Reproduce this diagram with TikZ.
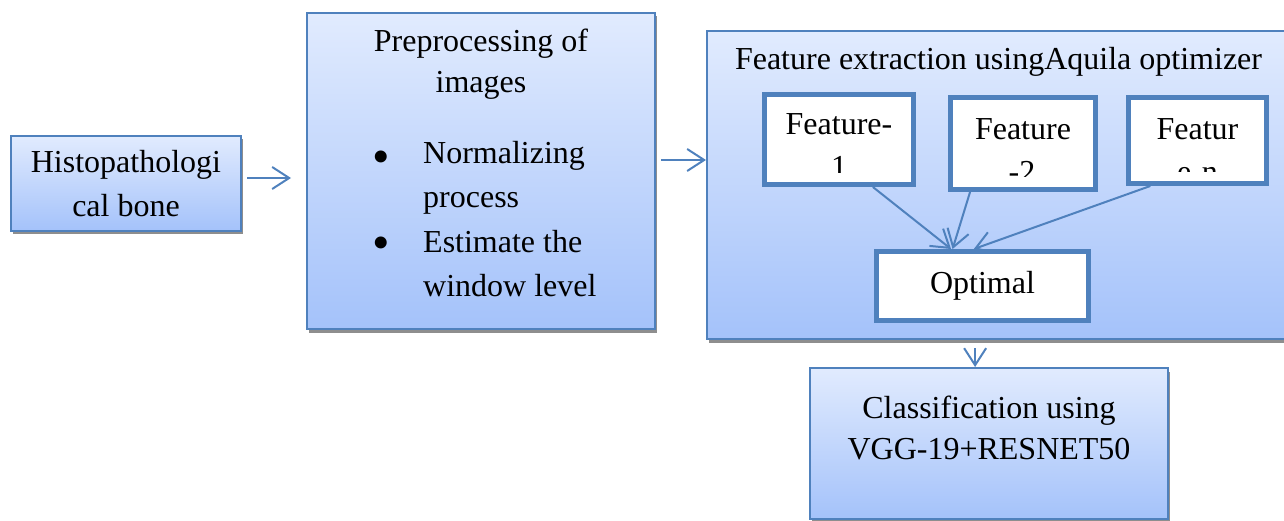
\documentclass[tikz,border=0pt]{standalone}
\usepackage{fontspec}
\setmainfont{Liberation Serif}
\usetikzlibrary{arrows.meta,calc,shadows}
\definecolor{bordblue}{HTML}{4F81BD}
\definecolor{topblue}{HTML}{E1EBFE}
\definecolor{botblue}{HTML}{A4C2FA}
\definecolor{shadgray}{HTML}{8E8E8E}
\begin{document}
\begin{tikzpicture}[x=1pt,y=-1pt,
  bluebox/.style={draw=bordblue, line width=2pt, top color=topblue, bottom color=botblue,
    inner sep=0pt, drop shadow={shadow xshift=1.5pt, shadow yshift=-3.5pt, fill=shadgray, opacity=1}},
  whitebox/.style={draw=bordblue, line width=5pt, fill=white, inner sep=0pt},
  txt/.style={anchor=base, inner sep=0pt, font=\fontsize{32}{43}\selectfont},
  bullettxt/.style={anchor=base, inner sep=0pt, font=\fontsize{50}{50}\selectfont},
  arr/.style={draw=bordblue, line width=2pt, -{Straight Barb[length=17pt,width=22pt,line width=2pt]}}
]
\useasboundingbox (0,0) rectangle (1284,521);

% Input box
\node[bluebox, minimum width=230pt, minimum height=95pt] (histo) at (126,183.5) {};
\node[txt] (histo1) at (126,173) {Histopathologi};
\node[txt] (histo2) at (126,217) {cal bone};

% Preprocessing box
\node[bluebox, minimum width=348pt, minimum height=316pt] (prep) at (481,171) {};
\node[txt] (prep1) at (481,52) {Preprocessing of};
\node[txt] (prep2) at (481,93) {images};
\node[bullettxt] (bul1) at (381.5,174) {\textbullet};
\node[bullettxt] (bul2) at (381.5,260) {\textbullet};
\node[txt, anchor=base west] (pl1) at (423,164) {Normalizing};
\node[txt, anchor=base west] (pl2) at (423,208) {process};
\node[txt, anchor=base west] (pl3) at (423,252) {Estimate the};
\node[txt, anchor=base west] (pl4) at (423,296) {window level};

% Feature extraction box
\node[bluebox, minimum width=583pt, minimum height=308pt] (feat) at (998.5,185) {};
\node[txt] (feattitle) at (998.5,70) {Feature extraction usingAquila optimizer};

\node[whitebox, minimum width=149pt, minimum height=90pt] (f1) at (839,139.5) {};
\node[txt] (f1a) at (839,135) {Feature-};
\begin{scope}
  \clip (765,100) rectangle (912,173);
  \node[txt] (f1b) at (839,178) {1};
\end{scope}

\node[whitebox, minimum width=145pt, minimum height=92pt] (f2) at (1023,143.5) {};
\node[txt] (f2a) at (1023,140) {Feature};
\begin{scope}
  \clip (952,100) rectangle (1093,177);
  \node[txt] (f2b) at (1022,183) {-2};
\end{scope}

\node[whitebox, minimum width=138pt, minimum height=86pt] (fn) at (1197.5,140.5) {};
\node[txt] (fna) at (1197.5,140) {Featur};
\begin{scope}
  \clip (1130,100) rectangle (1265,172);
  \node[txt] (fnb) at (1197.5,183) {e-n};
\end{scope}

\node[whitebox, minimum width=212pt, minimum height=69pt] (opt) at (982.5,286) {};
\node[txt] (opta) at (982.5,293) {Optimal};

% Classification box
\node[bluebox, minimum width=358pt, minimum height=151pt] (cls) at (989,443.5) {};
\node[txt] (cls1) at (989,418) {Classification using};
\node[txt] (cls2) at (989,459) {VGG-19+RESNET50};

% Connectors
\coordinate (a1s) at ($(histo.east)+(5,-5.5)$);
\coordinate (a1e) at ($(prep.west |- a1s)+(-15,0)$);
\draw[arr] (a1s) -- (a1e);

\coordinate (a2s) at ($(prep.east)+(5,-11)$);
\draw[arr] (a2s) -- (feat.west |- a2s);

\coordinate (a3s) at ($($(feat.south west)!0.46!(feat.south east)$)+(0,8)$);
\draw[arr] (a3s) -- (a3s |- cls.north);

\draw[arr] ($(f1.south west)!0.72!(f1.south east)$) -- ($(opt.north west)!0.355!(opt.north east)$);
\draw[arr] ($(f2.south west)!0.147!(f2.south east)$) -- ($(opt.north west)!0.362!(opt.north east)$);
\draw[arr] ($(fn.south west)!0.17!(fn.south east)$) -- ($(opt.north west)!0.46!(opt.north east)$);
\end{tikzpicture}
\end{document}
